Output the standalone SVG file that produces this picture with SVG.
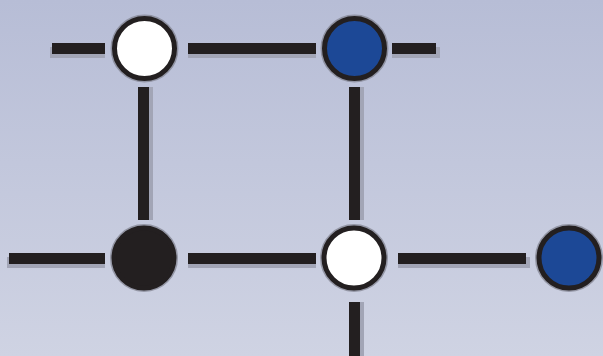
<svg xmlns="http://www.w3.org/2000/svg" width="603" height="356" viewBox="0 0 603 356">
<defs>
<linearGradient id="bg" x1="0" y1="0" x2="0" y2="1">
<stop offset="0" stop-color="#b7bdd6"/>
<stop offset="1" stop-color="#cfd3e3"/>
</linearGradient>
</defs>
<style>
.sh{stroke:#a2a5b6;stroke-width:11;fill:none}
.ln{stroke:#231f20;stroke-width:11;fill:none}
.halo{fill:none;stroke:#7d7f8c;stroke-width:3;opacity:0.7}
.ring{stroke:#231f20;stroke-width:5}
.white{fill:#ffffff}
.blue{fill:#1c4896}
.black{fill:#231f20}
</style>
<rect width="603" height="356" fill="url(#bg)"/>
<g id="connectors">
<g transform="translate(0,4)">
<line class="sh" x1="50" y1="48.5" x2="105" y2="48.5"/>
<line class="sh" x1="188" y1="48.5" x2="316" y2="48.5"/>
<line class="sh" x1="392" y1="48.5" x2="440" y2="48.5"/>
<line class="sh" x1="7" y1="258.5" x2="105" y2="258.5"/>
<line class="sh" x1="188" y1="258.5" x2="316" y2="258.5"/>
<line class="sh" x1="398" y1="258.5" x2="530" y2="258.5"/>
</g>
<g transform="translate(4,0)">
<line class="sh" x1="143.5" y1="87" x2="143.5" y2="220"/>
<line class="sh" x1="354.5" y1="87" x2="354.5" y2="220"/>
<line class="sh" x1="354.5" y1="302" x2="354.5" y2="356"/>
</g>
<line class="ln" x1="52" y1="48.5" x2="105" y2="48.5"/>
<line class="ln" x1="188" y1="48.5" x2="316" y2="48.5"/>
<line class="ln" x1="392" y1="48.5" x2="436" y2="48.5"/>
<line class="ln" x1="9" y1="258.5" x2="105" y2="258.5"/>
<line class="ln" x1="188" y1="258.5" x2="316" y2="258.5"/>
<line class="ln" x1="398" y1="258.5" x2="526" y2="258.5"/>
<line class="ln" x1="143.5" y1="87" x2="143.5" y2="220"/>
<line class="ln" x1="354.5" y1="87" x2="354.5" y2="220"/>
<line class="ln" x1="354.5" y1="302" x2="354.5" y2="356"/>
</g>
<g id="node-top-left">
<circle class="halo" cx="144.5" cy="48.5" r="32.5"/>
<circle class="white ring" cx="144.5" cy="48.5" r="30"/>
</g>
<g id="node-top-right">
<circle class="halo" cx="354.5" cy="48.5" r="32.5"/>
<circle class="blue ring" cx="354.5" cy="48.5" r="30"/>
</g>
<g id="node-bottom-left">
<circle class="halo" cx="144" cy="258" r="32.5"/>
<circle class="black ring" cx="144" cy="258" r="30"/>
</g>
<g id="node-bottom-middle">
<circle class="halo" cx="354" cy="258" r="32.5"/>
<circle class="white ring" cx="354" cy="258" r="30"/>
</g>
<g id="node-bottom-right">
<circle class="halo" cx="569" cy="258" r="32.5"/>
<circle class="blue ring" cx="569" cy="258" r="30"/>
</g>
</svg>
